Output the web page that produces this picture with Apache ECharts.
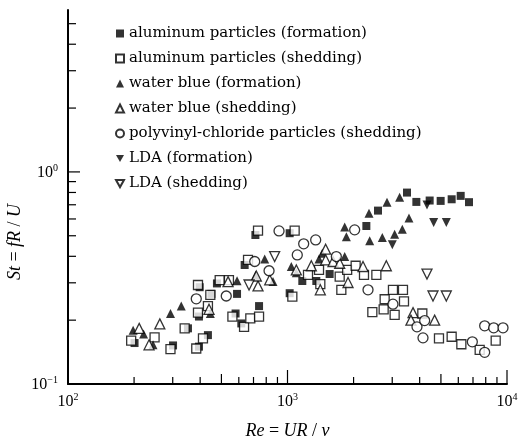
<!DOCTYPE html>
<html>
<head>
<meta charset="utf-8">
<script src="https://cdn.jsdelivr.net/npm/echarts@6/dist/echarts.min.js"></script>
<style>
html, body { margin: 0; padding: 0; background: #fff; }
#main { width: 522px; height: 438px; }
</style>
</head>
<body>
<div id="main"></div>
<script>
// Re, St pairs
var alFormation = [[201,0.156],[301,0.152],[352,0.183],[395,0.150],[434,0.170],[395,0.208],[398,0.286],[450,0.266],[477,0.298],[580,0.215],[589,0.266],[616,0.193],[638,0.364],[714,0.504],[742,0.233],[1023,0.514],[1023,0.268],[1168,0.306],[1353,0.306],[1556,0.330],[2287,0.556],[2584,0.657],[3502,0.799],[3864,0.722],[4443,0.733],[4986,0.730],[5596,0.743],[6152,0.771],[6713,0.720]];
var alShedding = [[194,0.160],[248,0.166],[293,0.146],[340,0.183],[384,0.147],[412,0.164],[391,0.293],[391,0.217],[434,0.233],[445,0.263],[491,0.309],[541,0.309],[561,0.208],[634,0.186],[677,0.204],[742,0.208],[661,0.385],[734,0.529],[1078,0.529],[1052,0.258],[1240,0.327],[1392,0.345],[1411,0.296],[1729,0.321],[1759,0.278],[1870,0.345],[2044,0.361],[2231,0.327],[2540,0.327],[2435,0.218],[2742,0.225],[2771,0.251],[3023,0.278],[3077,0.212],[3358,0.278],[3394,0.245],[4114,0.215],[4899,0.164],[5596,0.167],[6195,0.154],[7508,0.145],[8881,0.160]];
var wbFormation = [[198,0.179],[221,0.172],[244,0.153],[293,0.215],[328,0.233],[445,0.215],[589,0.307],[716,0.326],[787,0.389],[859,0.304],[1041,0.358],[1097,0.335],[1392,0.389],[1440,0.413],[1822,0.550],[1854,0.494],[1822,0.399],[2351,0.638],[2368,0.474],[2704,0.490],[2840,0.720],[3077,0.508],[3243,0.760],[3335,0.537],[3576,0.607]];
var wbShedding = [[211,0.183],[234,0.153],[262,0.192],[439,0.225],[536,0.304],[734,0.290],[721,0.323],[830,0.310],[1097,0.345],[1284,0.361],[1411,0.278],[1492,0.432],[1492,0.385],[1612,0.378],[1729,0.371],[1887,0.301],[2208,0.358],[2820,0.361],[3731,0.217],[3650,0.200],[4680,0.200]];
var pvcShedding = [[384,0.252],[526,0.260],[709,0.378],[824,0.342],[915,0.527],[1108,0.406],[1185,0.458],[1344,0.478],[1669,0.399],[2023,0.533],[2327,0.278],[3023,0.238],[3890,0.186],[4143,0.165],[4216,0.199],[6951,0.158],[7912,0.141],[7912,0.188],[8697,0.184],[9590,0.184]];
var ldaFormation = [[3002,0.453],[4320,0.699],[4633,0.577],[5290,0.577]];
var ldaShedding = [[668,0.293],[874,0.399],[4320,0.330],[4601,0.260],[5290,0.260]];

var seriesNames = ['aluminum particles (formation)', 'aluminum particles (shedding)', 'water blue (formation)', 'water blue (shedding)', 'polyvinyl-chloride particles (shedding)', 'LDA (formation)', 'LDA (shedding)'];

var xMajorTicks = [100, 1000, 10000];
var xMinorTicks = [200, 300, 400, 500, 600, 700, 800, 900, 2000, 3000, 4000, 5000, 6000, 7000, 8000, 9000];
var yMajorTicks = [0.1, 1];
var yMinorTicks = [0.2, 0.3, 0.4, 0.5, 0.6, 0.7, 0.8, 0.9, 2, 3, 4, 5];

var FONT = 'Liberation Serif, DejaVu Serif, serif';
var LEGEND_FONT = 'DejaVu Serif, Liberation Serif, serif';
var TRI_DOWN = 'path://M0,0 L10,0 L5,9 Z';
var chart = echarts.init(document.getElementById('main'));

// tick marks, pointing into the plot
var tickData = [];
xMajorTicks.forEach(function(v) { tickData.push([v, 0.1, 14, 0]); });
xMinorTicks.forEach(function(v) { tickData.push([v, 0.1, (v == 500 || v == 5000) ? 10 : 7, 0]); });
yMajorTicks.forEach(function(v) { tickData.push([100, v, 12, 1]); });
yMinorTicks.forEach(function(v) { tickData.push([100, v, 8, 1]); });

function powLabel(v) {
    var e = Math.log10(v);
    if (Math.abs(e - Math.round(e)) > 1e-6) return '';
    e = Math.round(e);
    return '{b|10}{s|' + (e < 0 ? '\u2212' + (-e) : e) + '}';
}
var powRich = {
    b: { fontFamily: FONT, fontSize: 16, color: '#000', lineHeight: 18, verticalAlign: 'bottom' },
    s: { fontFamily: FONT, fontSize: 10, color: '#000', lineHeight: 18, verticalAlign: 'top' }
};
var nameRich = {
    i: { fontFamily: FONT, fontSize: 18, fontStyle: 'italic', color: '#000' },
    n: { fontFamily: FONT, fontSize: 18, color: '#000' }
};

function mk(name, data, symbol, filled, size) {
    return {
        name: name,
        type: 'scatter',
        data: data,
        symbol: symbol,
        symbolSize: size,
        itemStyle: filled ? { color: '#000' } : { color: '#fff', borderColor: '#000', borderWidth: 1.3 }
    };
}

var option = {
    backgroundColor: '#fff',
    animation: false,
    grid: { left: 68, right: 15, top: 10, bottom: 54, outerBoundsMode: 'none', containLabel: false },
    legend: {
        data: seriesNames,
        orient: 'vertical',
        left: 110,
        top: 21,
        itemWidth: 8,
        itemHeight: 8,
        itemGap: 10,
        textStyle: { fontFamily: LEGEND_FONT, fontSize: 15, color: '#000' }
    },
    xAxis: {
        type: 'log',
        logBase: 10,
        min: 100,
        max: 10000,
        name: '{i|Re}{n| = }{i|UR}{n| / }{i|\u03bd}',
        nameLocation: 'middle',
        nameGap: 38,
        nameTextStyle: { fontFamily: FONT, fontSize: 18, color: '#000', rich: nameRich },
        axisLine: { lineStyle: { color: '#000', width: 2 } },
        axisTick: { show: false },
        splitLine: { show: false },
        axisLabel: { formatter: powLabel, rich: powRich, margin: 8 }
    },
    yAxis: {
        type: 'log',
        logBase: 10,
        min: 0.1,
        max: 5.8,
        name: '{i|St}{n| = }{i|fR}{n| / }{i|U}',
        nameLocation: 'middle',
        nameRotate: 90,
        nameGap: 44,
        nameMoveOverlap: false,
        nameTextStyle: { fontFamily: FONT, fontSize: 18, color: '#000', rich: nameRich, padding: [0, 90, 0, 0] },
        axisLine: { lineStyle: { color: '#000', width: 2 } },
        axisTick: { show: false },
        splitLine: { show: false },
        axisLabel: { formatter: powLabel, rich: powRich, margin: 10 }
    },
    series: [
        mk(seriesNames[0], alFormation, 'rect', true, 8),
        mk(seriesNames[1], alShedding, 'rect', false, 9),
        mk(seriesNames[2], wbFormation, 'triangle', true, 9),
        mk(seriesNames[3], wbShedding, 'triangle', false, 10),
        mk(seriesNames[4], pvcShedding, 'circle', false, 10),
        mk(seriesNames[5], ldaFormation, TRI_DOWN, true, 9),
        mk(seriesNames[6], ldaShedding, TRI_DOWN, false, 10),
        {
            name: 'ticks',
            type: 'custom',
            silent: true,
            clip: false,
            z: 5,
            data: tickData,
            renderItem: function(params, api) {
                var p = api.coord([api.value(0), api.value(1)]);
                var len = api.value(2);
                var dir = api.value(3);
                var q = dir == 0 ? [p[0], p[1] - len] : [p[0] + len, p[1]];
                return {
                    type: 'line',
                    shape: { x1: p[0], y1: p[1], x2: q[0], y2: q[1] },
                    style: { stroke: '#000', lineWidth: 1.2 }
                };
            }
        }
    ]
};
chart.setOption(option);
</script>
</body>
</html>
